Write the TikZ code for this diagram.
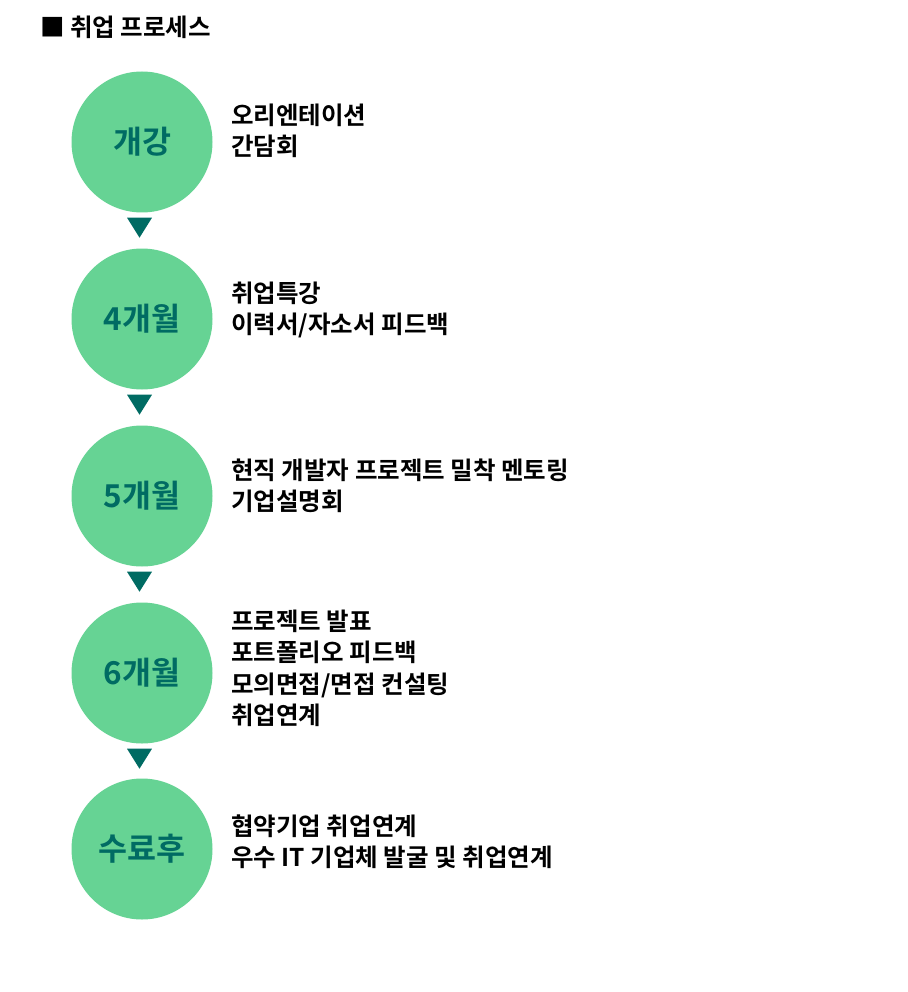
\documentclass[tikz,border=0pt]{standalone}
\usepackage{fontspec}
\setmainfont{Noto Sans CJK KR}[BoldFont={* Bold}]
\usetikzlibrary{calc}
\definecolor{stepgreen}{RGB}{102,211,148}
\definecolor{stepteal}{RGB}{0,107,99}
\tikzset{
  stage/.style={circle, fill=stepgreen, minimum size=141pt, inner sep=0pt,
    text=stepteal, font=\fontsize{31.5}{34}\selectfont\bfseries},
  desc/.style={anchor=base west, inner sep=0pt, font=\fontsize{24.5}{28}\selectfont\bfseries},
  pointer/.style={fill=stepteal}
}
\begin{document}
\begin{tikzpicture}[x=1pt,y=-1pt]
\useasboundingbox (0,0) rectangle (907,992);
\node[anchor=base west, inner sep=0pt, font=\fontsize{24.5}{28}\selectfont\bfseries] (title) at (40,37) {■ 취업 프로세스};

\node[stage] (c1) at (142,142) {개강};
\node[stage] (c2) at (142,319) {4개월};
\node[stage] (c3) at (142,496) {5개월};
\node[stage] (c4) at (142,673) {6개월};
\node[stage] (c5) at (142,849) {수료후};

\foreach \a/\b in {c1/c2,c2/c3,c3/c4,c4/c5}{
  \fill[pointer] ($(\a.south)+(-15,5)$) -- ($(\a.south)+(10,5)$) -- ($(\a.south)+(-2.5,25)$) -- cycle;
}

\node[desc] (d1a) at (231,125) {오리엔테이션};
\node[desc] (d1b) at (231,156) {간담회};

\node[desc] (d2a) at (231,302) {취업특강};
\node[desc] (d2b) at (231,333) {이력서/자소서 피드백};

\node[desc] (d3a) at (231,479) {현직 개발자 프로젝트 밀착 멘토링};
\node[desc] (d3b) at (231,510) {기업설명회};

\node[desc] (d4a) at (231,630) {프로젝트 발표};
\node[desc] (d4b) at (231,661) {포트폴리오 피드백};
\node[desc] (d4c) at (231,693) {모의면접/면접 컨설팅};
\node[desc] (d4d) at (231,724) {취업연계};

\node[desc] (d5a) at (231,835) {협약기업 취업연계};
\node[desc] (d5b) at (231,866) {우수 IT 기업체 발굴 및 취업연계};
\end{tikzpicture}
\end{document}
